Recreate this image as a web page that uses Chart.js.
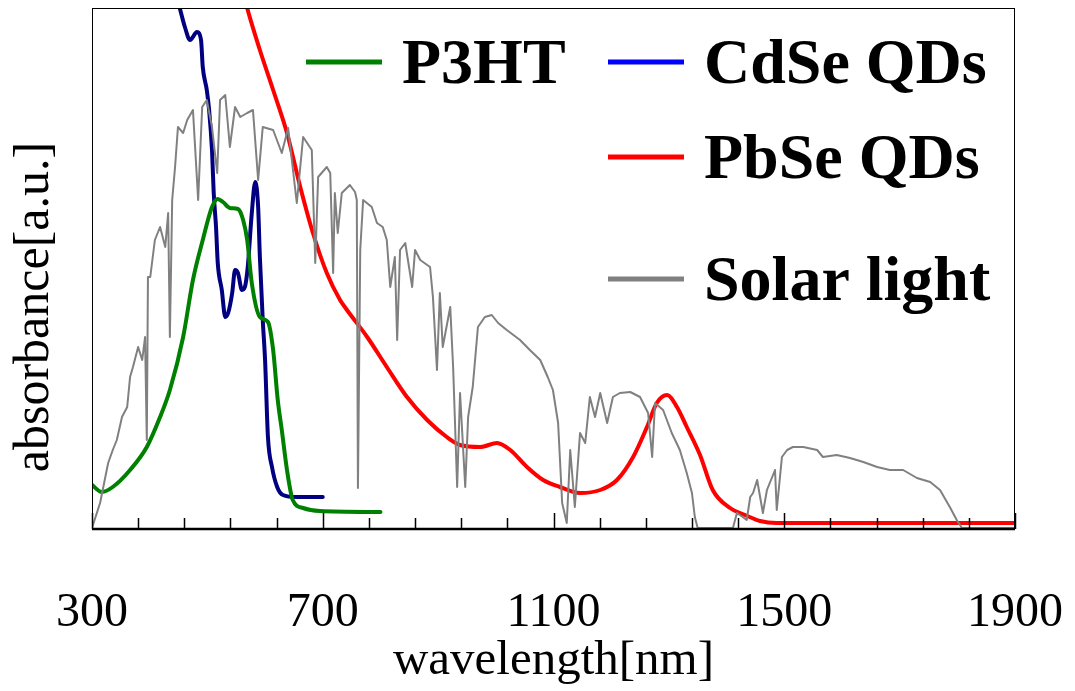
<!DOCTYPE html>
<html>
<head>
<meta charset="utf-8">
<script src="https://cdn.jsdelivr.net/npm/chart.js@4"></script>
<style>
  body { margin: 0; background: #fff; }
  #wrap { width: 1075px; height: 691px; }
</style>
</head>
<body>
<div id="wrap"><canvas id="spectra"></canvas></div>
<script>
// wavelength [nm] / absorbance [a.u.]
const seriesNames = ['P3HT', 'CdSe QDs', 'PbSe QDs', 'Solar light'];
const yTitle = 'absorbance[a.u.]';

const p3htWl = [300,317,336,366,395,418,435,458,475,492,508,518,527,539,553,562,569,577,591,605,614,622,629,638,648,666,695,800];
const p3htAbs = [44,37,42,59,82,112,139,192,249,289,322,330,327,321,320,309,289,246,212,207,179,129,99,59,29,21,18,17];

const cdseWl = [439,453,461,470,482,489,492,499,503,508,511,515,518,525,531,536,543,548,553,560,565,570,577,583,588,591,596,600,605,612,621,631,655,700];
const cdseAbs = [549,519,502,489,497,489,462,439,419,379,336,302,266,239,212,216,236,259,256,239,242,262,316,347,322,272,209,169,92,62,42,34,32,32];

const pbseWl = [557,569,591,614,638,661,683,707,730,742,777,811,846,881,915,938,973,1002,1025,1054,1082,1111,1146,1181,1210,1238,1262,1279,1297,1314,1331,1354,1376,1406,1432,1458,1487,1900];
const pbseAbs = [549,521,479,439,396,342,296,256,229,219,192,162,132,109,92,84,82,86,79,62,49,42,36,39,49,72,102,126,134,122,102,74,39,21,14,8,6,6];

const solarWl = [
  300,314,328,336,343,352,361,366,371,380,
  387,392,395,397,401,409,418,427,432,435,
  439,444,449,458,465,475,484,491,499,508,
  517,522,531,539,548,557,569,579,588,596,
  614,629,640,655,666,681,687,692,707,713,
  718,721,726,733,747,756,759,761,765,770,
  785,794,804,811,817,825,829,834,843,855,
  860,869,886,891,898,903,908,921,926,933,
  938,947,952,960,969,981,993,1004,1019,1042,
  1059,1077,1090,1099,1108,1115,1123,1129,1137,1146,
  1155,1163,1172,1181,1193,1203,1215,1233,1250,1264,
  1271,1276,1290,1305,1319,1331,1340,1345,1350,1411,
  1418,1428,1435,1441,1446,1453,1463,1470,1484,1487,
  1496,1505,1515,1533,1557,1567,1591,1614,1637,1661,
  1683,1706,1730,1753,1770,1787,1799,1808,1900
];
const solarAbs = [
  1,26,66,79,89,112,122,152,162,182,
  169,192,89,252,252,289,302,282,316,192,
  329,362,402,396,409,419,329,422,429,402,
  356,429,434,382,422,412,416,419,349,402,
  399,376,401,326,392,379,266,352,362,356,
  256,336,296,336,344,337,329,41,279,329,
  322,306,302,289,242,272,189,279,286,242,
  279,269,262,232,159,236,182,222,162,42,
  136,42,112,142,202,212,214,206,199,189,
  179,169,152,139,106,26,6,79,22,96,
  86,132,112,136,106,132,136,137,132,116,
  72,126,119,96,79,56,36,12,1,1,
  16,12,9,32,36,49,16,39,59,19,
  72,79,82,82,79,72,74,71,67,62,
  59,59,51,47,39,22,9,1,1
];

const xTickStart = 300, xTickEnd = 1900, xMinorStep = 80, xMajorStep = 400;

const serif = "'Liberation Serif', 'Times New Roman', serif";
const toPoints = (wl, abs) => wl.map((w, i) => ({ x: w, y: abs[i] }));

// inward tick marks + frame like the original plot
const frameTicks = {
  id: 'frameTicks',
  afterDraw(chart) {
    const { ctx, chartArea: a, scales: { x } } = chart;
    ctx.save();
    ctx.strokeStyle = '#000';
    ctx.lineWidth = 1.5;
    x.ticks.forEach(t => {
      const px = Math.round(x.getPixelForValue(t.value)) + 0.5;
      const major = (t.value - xTickStart) % xMajorStep === 0;
      ctx.beginPath();
      ctx.moveTo(px, a.bottom);
      ctx.lineTo(px, a.bottom - (major ? 16 : 11));
      ctx.stroke();
    });
    ctx.lineWidth = 1;
    ctx.strokeRect(a.left + 0.5, a.top + 0.5, a.right - a.left - 1, a.bottom - a.top);
    ctx.lineWidth = 2.5;
    ctx.beginPath();
    ctx.moveTo(a.left, a.bottom);
    ctx.lineTo(a.right, a.bottom);
    ctx.stroke();

    // y title sits a bit below the middle of the plot in the original
    ctx.font = '50px ' + serif;
    ctx.fillStyle = '#000';
    ctx.textAlign = 'center';
    ctx.textBaseline = 'middle';
    ctx.translate(35, 307);
    ctx.rotate(-Math.PI / 2);
    ctx.fillText(yTitle, 0, 0);
    ctx.restore();
  }
};

// legend sits inside the plot in two uneven columns
const legendSlots = [{ x: 306, y: 62 }, { x: 608, y: 62 }, { x: 608, y: 157 }, { x: 608, y: 279 }];
const legendColors = ['#008000', '#0000ff', '#ff0000', '#808080'];
const insideLegend = {
  id: 'insideLegend',
  afterDraw(chart) {
    const ctx = chart.ctx;
    ctx.save();
    ctx.font = 'bold 64px ' + serif;
    ctx.textBaseline = 'middle';
    ctx.fillStyle = '#000';
    legendSlots.forEach((s, i) => {
      ctx.strokeStyle = legendColors[i];
      ctx.lineWidth = 5;
      ctx.beginPath();
      ctx.moveTo(s.x, s.y);
      ctx.lineTo(s.x + 76, s.y);
      ctx.stroke();
      ctx.fillText(seriesNames[i], s.x + 96, s.y + 4);
    });
    ctx.restore();
  }
};

new Chart(document.getElementById('spectra'), {
  type: 'line',
  data: {
    datasets: [
      { label: seriesNames[3], data: toPoints(solarWl, solarAbs), borderColor: '#808080', borderWidth: 2 },
      { label: seriesNames[2], data: toPoints(pbseWl, pbseAbs), borderColor: '#ff0000', borderWidth: 4, cubicInterpolationMode: 'monotone' },
      { label: seriesNames[0], data: toPoints(p3htWl, p3htAbs), borderColor: '#008000', borderWidth: 4, cubicInterpolationMode: 'monotone' },
      { label: seriesNames[1], data: toPoints(cdseWl, cdseAbs), borderColor: '#000080', borderWidth: 4, cubicInterpolationMode: 'monotone' },
    ],
  },
  options: {
    responsive: true,
    maintainAspectRatio: false,
    animation: false,
    layout: { padding: { top: 8, right: 60, left: 0, bottom: 0 } },
    elements: { point: { radius: 0 }, line: { tension: 0, borderJoinStyle: 'round', borderCapStyle: 'round' } },
    datasets: { line: { clip: 0 } },
    plugins: { legend: { display: false }, tooltip: { enabled: false } },
    scales: {
      x: {
        type: 'linear',
        min: xTickStart,
        max: xTickEnd,
        grid: { display: false },
        border: { display: false },
        afterBuildTicks(s) {
          const t = [];
          for (let v = xTickStart; v <= xTickEnd; v += xMinorStep) t.push({ value: v });
          s.ticks = t;
        },
        afterFit(s) { s.height = 162; s.paddingLeft = 0; s.paddingRight = 0; },
        ticks: {
          autoSkip: false,
          maxRotation: 0,
          padding: 48,
          color: '#000',
          font: { family: serif, size: 48 },
          callback: v => ((v - xTickStart) % xMajorStep === 0 ? String(v) : ''),
        },
        title: {
          display: true,
          text: 'wavelength[nm]',
          color: '#000',
          font: { family: serif, size: 49 },
          padding: { top: 0, bottom: 0 },
        },
      },
      y: {
        min: 0,
        max: 521,
        grid: { display: false },
        border: { display: false },
        ticks: { display: false },
        afterFit(s) { s.width = 92; },
      },
    },
  },
  plugins: [frameTicks, insideLegend],
});
</script>
</body>
</html>
